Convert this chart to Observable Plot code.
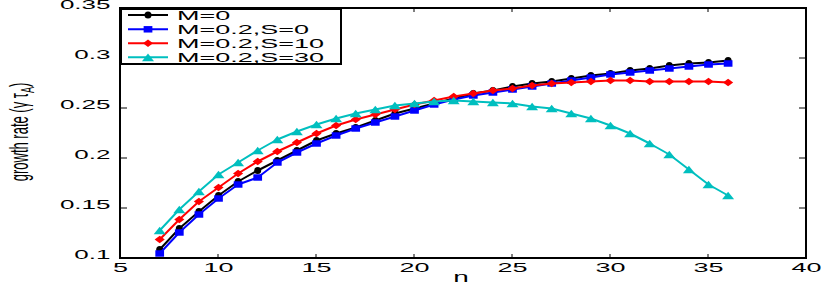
<!DOCTYPE html>
<html><head><meta charset="utf-8">
<script src="https://cdn.jsdelivr.net/npm/d3@7"></script>
<script src="https://cdn.jsdelivr.net/npm/@observablehq/plot@0.6"></script>
<style>body{margin:0;background:#fff}</style>
</head><body><div id="chart"></div>
<script>
const n = [7,8,9,10,11,12,13,14,15,16,17,18,19,20,21,22,23,24,25,26,27,28,29,30,31,32,33,34,35,36];
const seriesNames = ["M=0", "M=0.2,S=0", "M=0.2,S=10", "M=0.2,S=30"];
const gM0  = [0.109,0.130,0.147,0.163,0.177,0.188,0.198,0.208,0.218,0.225,0.231,0.238,0.245,0.250,0.255,0.260,0.265,0.268,0.272,0.275,0.277,0.280,0.283,0.285,0.288,0.290,0.293,0.295,0.296,0.298];
const gS0  = [0.105,0.126,0.144,0.160,0.174,0.181,0.196,0.206,0.215,0.223,0.230,0.236,0.242,0.248,0.254,0.259,0.263,0.266,0.269,0.272,0.275,0.278,0.281,0.284,0.286,0.288,0.290,0.292,0.294,0.295];
const gS10 = [0.119,0.139,0.157,0.171,0.185,0.197,0.207,0.216,0.225,0.233,0.239,0.244,0.249,0.254,0.258,0.262,0.265,0.268,0.270,0.273,0.275,0.276,0.277,0.278,0.278,0.277,0.277,0.277,0.277,0.276];
const gS30 = [0.128,0.149,0.167,0.184,0.196,0.208,0.219,0.227,0.234,0.240,0.245,0.249,0.253,0.255,0.257,0.258,0.257,0.256,0.255,0.252,0.250,0.245,0.240,0.233,0.225,0.215,0.204,0.189,0.174,0.163];
const xTicks = [5,10,15,20,25,30,35,40];
const yTicks = [0.1,0.15,0.2,0.25,0.3,0.35];
const xLabel = "n";
const colors = ["#000000", "#0000ff", "#ff0000", "#00bfbf"];

// markers, stretched horizontally like the reference picture
const wideCircle = {draw(c, size) { const r = Math.sqrt(size / Math.PI); c.ellipse ? c.ellipse(0, 0, r * 1.25, r * 0.9, 0, 0, 2 * Math.PI) : c.arc(0, 0, r, 0, 2 * Math.PI); }};
const wideSquare = {draw(c, size) { const r = Math.sqrt(size / Math.PI); const w = r * 1.15, h = r * 0.85; c.moveTo(-w, -h); c.lineTo(w, -h); c.lineTo(w, h); c.lineTo(-w, h); c.closePath(); }};
const wideDiamond = {draw(c, size) { const r = Math.sqrt(size / Math.PI); const w = r * 1.3, h = r * 0.95; c.moveTo(0, -h); c.lineTo(w, 0); c.lineTo(0, h); c.lineTo(-w, 0); c.closePath(); }};
const wideTriangle = {draw(c, size) { const r = Math.sqrt(size / Math.PI); const w = r * 1.25, h = r * 0.8; c.moveTo(0, -h); c.lineTo(w, h); c.lineTo(-w, h); c.closePath(); }};
const symbols = [wideCircle, wideSquare, wideDiamond, wideTriangle];
const markerR = [3.5, 3.8, 3.9, 4.8];

const allSeries = [gM0, gS0, gS10, gS30];
const marks = [
  Plot.axisX(xTicks, {tickSize: 0, tickPadding: 13, fontSize: 13.5, label: null, tickFormat: d => String(d)}),
  Plot.axisY(yTicks, {tickSize: 0, tickPadding: 10, fontSize: 13, label: null, tickFormat: d => String(d)})
];
allSeries.forEach((arr, k) => {
  const rows = n.map((x, i) => ({n: x, g: arr[i]}));
  marks.push(Plot.line(rows, {x: "n", y: "g", stroke: colors[k], strokeWidth: 2}));
  marks.push(Plot.dot(rows, {x: "n", y: "g", symbol: () => symbols[k], fill: colors[k], stroke: "none", r: markerR[k]}));
});

const svg = Plot.plot({
  width: 830, height: 291,
  marginLeft: 120, marginRight: 24, marginTop: 8, marginBottom: 33,
  x: {domain: [5, 40]},
  y: {domain: [0.1, 0.35]},
  symbol: {type: "identity"},
  style: {fontFamily: "'Liberation Sans', Arial, sans-serif", background: "white", color: "black"},
  marks
});

// horizontally stretched text, as in the reference
svg.querySelectorAll("text").forEach(t => {
  const x = +t.getAttribute("x") || 0, y = +t.getAttribute("y") || 0;
  const tr = t.getAttribute("transform") || "";
  t.removeAttribute("x"); t.removeAttribute("y");
  t.setAttribute("transform", `${tr} translate(${x},${y}) scale(2,1)`);
});

const s = d3.select(svg);
const xs = svg.scale("x"), ys = svg.scale("y");
const x0 = xs.apply(xTicks[0]), x1 = xs.apply(xTicks[xTicks.length - 1]);
const y0 = ys.apply(yTicks[0]), y1 = ys.apply(yTicks[yTicks.length - 1]);

// inward ticks on all four sides
const tk = s.append("g").attr("stroke", "black").attr("stroke-width", 1);
xTicks.forEach(v => {
  const px = xs.apply(v);
  tk.append("line").attr("x1", px).attr("x2", px).attr("y1", y0).attr("y2", y0 - 4);
  tk.append("line").attr("x1", px).attr("x2", px).attr("y1", y1).attr("y2", y1 + 4);
});
yTicks.forEach(v => {
  const py = ys.apply(v);
  tk.append("line").attr("x1", x0).attr("x2", x0 + 7).attr("y1", py).attr("y2", py);
  tk.append("line").attr("x1", x1).attr("x2", x1 - 7).attr("y1", py).attr("y2", py);
});

// axis labels
s.append("text").attr("transform", "translate(461,282) scale(2,1)")
  .attr("text-anchor", "middle").attr("font-size", 14).attr("fill", "black").text(xLabel);
const yl = s.append("text").attr("transform", "translate(28,132) scale(2,1) rotate(-90)")
  .attr("text-anchor", "middle").attr("font-size", 13).attr("fill", "black");
yl.append("tspan").text("growth rate (γ τ");
yl.append("tspan").attr("font-size", 9).attr("dy", 3).text("A");
yl.append("tspan").attr("dy", -3).text(")");

// legend
const leg = s.append("g");
leg.append("rect").attr("x", x0 + 1).attr("y", y1 + 1).attr("width", 220).attr("height", 55)
  .attr("fill", "white").attr("stroke", "black").attr("stroke-width", 2);
const rowsY = [15, 29.3, 43.3, 57.3];
seriesNames.forEach((name, k) => {
  const y = rowsY[k];
  leg.append("line").attr("x1", 128).attr("x2", 168).attr("y1", y).attr("y2", y)
    .attr("stroke", colors[k]).attr("stroke-width", 2);
  leg.append("path").attr("transform", `translate(148,${y})`)
    .attr("d", d3.symbol(symbols[k], Math.PI * markerR[k] * markerR[k])())
    .attr("fill", colors[k]);
  leg.append("text").attr("transform", `translate(177,${y + 5}) scale(2,1)`)
    .attr("text-anchor", "start").attr("font-size", 13.5).attr("fill", "black").text(name);
});

// thick box frame
s.append("rect").attr("x", x0).attr("y", y1).attr("width", x1 - x0).attr("height", y0 - y1)
  .attr("fill", "none").attr("stroke", "black").attr("stroke-width", 2);

document.getElementById("chart").appendChild(svg);
</script>
</body></html>
